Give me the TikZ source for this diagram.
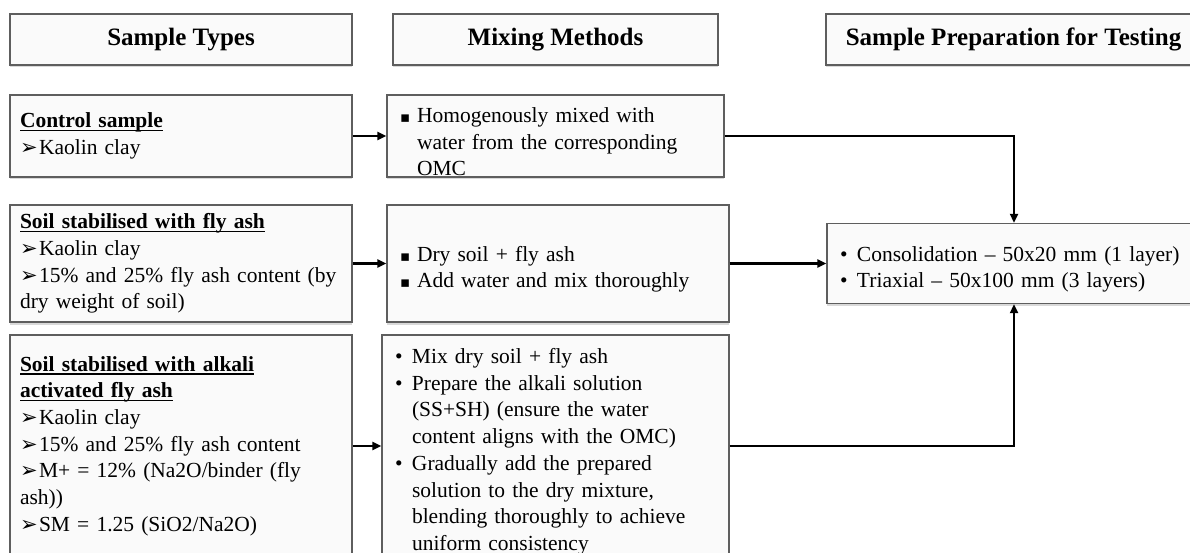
\documentclass[tikz,border=0pt]{standalone}
\usepackage{fontspec}
\setmainfont{Liberation Serif}
\newfontfamily\symfont{DejaVu Sans}
\usetikzlibrary{arrows.meta,shadows}

\definecolor{boxline}{HTML}{5E5E5E}
\definecolor{boxfill}{HTML}{FAFAFA}

% Text sizes and bullets
\newcommand{\bodysize}{\fontsize{21.5}{26.7}\selectfont}
\newcommand{\ulbf}[1]{\setbox0=\hbox{\bfseries #1}\rlap{\rule[-3.5pt]{\wd0}{1.6pt}}\box0}
\newcommand{\arw}{\makebox[19pt][l]{\symfont\fontsize{21}{21}\selectfont ➢}}
\newcommand{\sqitem}{\par\hangindent=17pt\hangafter=1\noindent\makebox[17pt][l]{\symfont\fontsize{15}{15}\selectfont ▪}}
\newcommand{\dotitem}{\par\hangindent=17pt\hangafter=1\noindent\makebox[17pt][l]{•}}

\tikzset{
  box/.style={draw=boxline, fill=boxfill, line width=1.4pt, align=left,
    font=\bodysize, inner ysep=0pt,
    drop shadow={shadow xshift=0pt, shadow yshift=-2.5pt, opacity=0.3}},
  headbox/.style={box, align=center, minimum height=51pt,
    font=\fontsize{25}{30}\selectfont\bfseries},
  conn/.style={line width=2.2pt, -{Triangle[length=9pt,width=8pt]}}
}

\begin{document}
\begin{tikzpicture}[x=1pt,y=-1pt]
	\clip (0,0) rectangle (1190,553);
	% Column headers
	\node[headbox, minimum width=342pt] (htype) at (181,39.5) {Sample Types};
	\node[headbox, minimum width=325pt] (hmix) at (555.5,39.5) {Mixing Methods};
	\node[headbox, minimum width=375pt] (hprep) at (1013.5,39.5) {Sample Preparation for Testing};
	% Sample types
	\node[box, inner xsep=10pt, text width=322pt, minimum height=82pt] (ctrl) at (181,136)
	  {\ulbf{Control sample}\newline \arw Kaolin clay};
	\node[box, inner xsep=10pt, text width=322pt, minimum height=117pt] (fly) at (181,263.5)
	  {\ulbf{Soil stabilised with fly ash}\newline \arw Kaolin clay\newline
	   \arw 15\% and 25\% fly ash content (by\newline dry weight of soil)};
	\node[box, inner xsep=10pt, text width=322pt, minimum height=222pt] (alk) at (181,446)
	  {\ulbf{Soil stabilised with alkali}\newline \ulbf{activated fly ash}\newline
	   \arw Kaolin clay\newline \arw 15\% and 25\% fly ash content\newline
	   \arw M+ = 12\% (Na2O/binder (fly\newline ash))\newline \arw SM = 1.25 (SiO2/Na2O)};
	% Mixing methods
	\node[box, inner xsep=13pt, text width=311pt, minimum height=82pt] (mix1) at (555.5,136)
	  {\sqitem Homogenously mixed with\newline water from the corresponding\newline OMC\par};
	\node[box, inner xsep=13pt, text width=316pt, minimum height=117pt] (mix2) at (558,263.5)
	  {\sqitem Dry soil + fly ash\sqitem Add water and mix thoroughly\par};
	\node[box, inner xsep=13pt, text width=321pt, minimum height=222pt] (mix3) at (555.5,446)
	  {\dotitem Mix dry soil + fly ash
	   \dotitem Prepare the alkali solution\newline (SS+SH) (ensure the water\newline content aligns with the OMC)
	   \dotitem Gradually add the prepared\newline solution to the dry mixture,\newline blending thoroughly to achieve\newline uniform consistency\par};
	% Testing
	\node[box, inner xsep=13pt, text width=348pt, minimum height=80pt] (prep) at (1014,263.5)
	  {\dotitem Consolidation -- 50x20 mm (1 layer)\dotitem Triaxial -- 50x100 mm (3 layers)\par};
	% Connectors
	\draw[conn] (ctrl.east) -- (mix1.west);
	\draw[conn] (fly.east) -- (mix2.west);
	\draw[conn] (alk.east) -- (mix3.west);
	\draw[conn] (mix1.east) -| (prep.north);
	\draw[conn] (mix2.east) -- (prep.west);
	\draw[conn] (mix3.east) -| (prep.south);
\end{tikzpicture}
\end{document}
